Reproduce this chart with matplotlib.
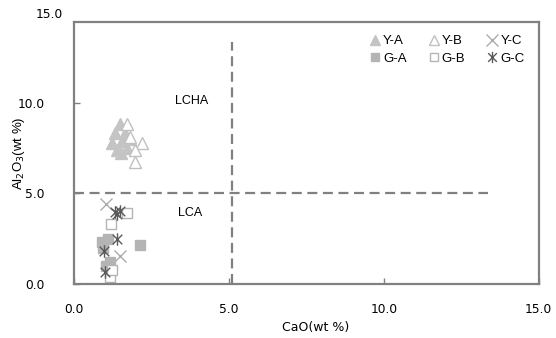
import matplotlib
matplotlib.use("Agg")
import matplotlib.pyplot as plt
from matplotlib.path import Path

plt.rcParams['font.family'] = ['Liberation Sans', 'DejaVu Sans']

# Y 组 (上部) 与 G 组 (下部) 的 CaO / Al2O3 含量 (wt %)
ya_cao = [1.48, 1.32, 1.65, 1.23, 1.55, 1.80, 1.39, 1.71, 1.52]
ya_al = [8.80, 8.30, 8.30, 7.80, 7.90, 8.00, 7.40, 7.50, 7.20]
yb_cao = [1.71, 2.19, 1.97, 1.97, 1.80]
yb_al = [8.80, 7.75, 7.40, 6.70, 8.10]
yc_cao = [1.03, 1.48]
yc_al = [4.40, 1.55]
ga_cao = [0.90, 1.10, 0.94, 2.13, 1.03, 1.16]
ga_al = [2.30, 2.50, 2.00, 2.15, 1.00, 1.20]
gb_cao = [1.71, 1.20, 1.16, 1.23]
gb_al = [3.90, 3.30, 0.40, 0.75]
gc_cao = [1.32, 1.48, 1.39, 1.39, 0.97, 1.00]
gc_al = [3.95, 4.00, 3.85, 2.50, 1.80, 0.65]

ticks = [0, 5, 10]
tick_labels = ["0.0", "5.0", "10.0"]
xticks = [0, 5, 10, 15]
xtick_labels = ["0.0", "5.0", "10.0", "15.0"]

# 星号: X 加一条竖线
star = Path([(-1, -1), (1, 1), (-1, 1), (1, -1), (0, -1.3), (0, 1.3)],
            [Path.MOVETO, Path.LINETO, Path.MOVETO, Path.LINETO, Path.MOVETO, Path.LINETO])

fig = plt.figure(figsize=(5.56, 3.38), dpi=100)
ax = fig.add_axes([0.133, 0.160, 0.836, 0.775])

ax.plot(ya_cao, ya_al, '^', ms=8, color='#c4c4c4', mec='#c4c4c4', ls='none', label='Y-A')
ax.plot(yb_cao, yb_al, '^', ms=8, mfc='white', mec='#c0c0c0', mew=1.0, ls='none', label='Y-B')
ax.plot(yc_cao, yc_al, 'x', ms=9, color='#acacac', mew=1.0, ls='none', label='Y-C')
ax.plot(ga_cao, ga_al, 's', ms=7, color='#b4b4b4', ls='none', label='G-A')
ax.plot(gb_cao, gb_al, 's', ms=7, mfc='white', mec='#b4b4b4', mew=1.0, ls='none', label='G-B')
ax.plot(gc_cao, gc_al, marker=star, ms=9, color='#5a5a5a', mew=1.0, ls='none', label='G-C')

# 分区虚线
ax.plot([0, 13.35], [5, 5], color='#808080', lw=1.6, dashes=(4.5, 2.5))
ax.plot([5.1, 5.1], [0, 13.35], color='#808080', lw=1.6, dashes=(4.5, 2.5))
ax.text(3.8, 10.1, "LCHA", fontsize=9, ha='center', va='center')
ax.text(3.75, 3.9, "LCA", fontsize=9, ha='center', va='center')

ax.set_xlim(0, 15)
ax.set_ylim(0, 14.45)
ax.set_xticks(xticks)
ax.set_xticklabels(xtick_labels, family='DejaVu Sans', fontsize=8.8)
ax.set_yticks(ticks)
ax.set_yticklabels(tick_labels, family='DejaVu Sans', fontsize=8.8)
ax.text(-0.35, 14.85, "15.0", family='DejaVu Sans', fontsize=8.8, ha='right', va='center',
        transform=ax.transData, clip_on=False)
ax.tick_params(direction='in', length=4, width=1, color='#808080', pad=14)
ax.tick_params(axis='y', pad=21)
for s in ax.spines.values():
    s.set_color('#808080')
    s.set_linewidth(1.6)

ax.set_xlabel("CaO(wt %)", fontsize=9, family='DejaVu Sans')
ax.set_ylabel("Al$_2$O$_3$(wt %)", fontsize=9.5)
ax.xaxis.set_label_coords(0.52, -0.14)
ax.yaxis.set_label_coords(-0.1, 0.5)

h, l = ax.get_legend_handles_labels()
order = [0, 3, 1, 4, 2, 5]
ax.legend([h[i] for i in order], [l[i] for i in order], ncol=3, frameon=False,
          loc='upper right', bbox_to_anchor=(0.995, 0.995), fontsize=9.5,
          handlelength=0.9, handletextpad=0.15, columnspacing=1.6, labelspacing=0.4,
          markerscale=0.9)

fig.savefig("out.png", dpi=100)
